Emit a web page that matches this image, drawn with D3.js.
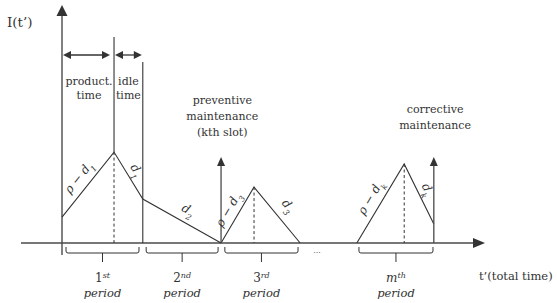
<!DOCTYPE html>
<html><head><meta charset="utf-8">
<script src="https://cdn.jsdelivr.net/npm/d3@7"></script>
<style>
body{margin:0;background:#fff}
svg{display:block}
text{font-family:"DejaVu Serif",serif;fill:#333}
</style>
</head><body><svg id="c" width="557" height="303"></svg>
<script>
// ---- data (abstract units: time t' 0..100, inventory I 0..100) ----
const cycle1 = [[0,10.9],[12.3,38.2],[19.1,18.5],[37.6,0]];
const cycle3 = [[37.6,0],[45.4,23.5],[56.3,0]];
const cycleM = [[69.7,0],[80.9,33.2],[87.9,8.0]];
const peaks = [[12.3,38.2],[45.4,23.5],[80.9,33.2]];
const maintArrows = [{t:37.6, top:36.1}, {t:87.9, top:36.1}];
const boundaries = [{t:12.3, top:86.6}, {t:19.1, top:76.1}];
const spans = [{t0:0, t1:12.3, label:["product.","time"]}, {t0:12.3, t1:19.1, label:["idle","time"]}];
const periods = [
  {t0:0.95, t1:18.2, num:"1", sup:"st", ital:false},
  {t0:19.9, t1:36.9, num:"2", sup:"nd", ital:false},
  {t0:38.5, t1:55.8, num:"3", sup:"rd", ital:false},
  {t0:70.2, t1:87.7, num:"m", sup:"th", ital:true}
];
const slopeLabels = [
  {a:cycle1[0], b:cycle1[1], main:"ρ − d", sub:"1"},
  {a:cycle1[1], b:cycle1[2], main:"d", sub:"1"},
  {a:cycle1[2], b:cycle1[3], main:"d", sub:"2"},
  {a:cycle3[0], b:cycle3[1], main:"ρ − d", sub:"3"},
  {a:cycle3[1], b:cycle3[2], main:"d", sub:"3"},
  {a:cycleM[0], b:cycleM[1], main:"ρ − d", sub:"k"},
  {a:cycleM[1], b:cycleM[2], main:"d", sub:"k"}
];
const notes = [
  {t:37.9, lines:["preventive","maintenance","(kth slot)"]},
  {t:88.2, lines:["corrective","maintenance"]}
];
const yLabel = "I(t’)", xLabel = "t’(total time)";

// ---- layout ----
const svg = d3.select("#c");
const x = d3.scaleLinear().domain([0,100]).range([62,485]);
const y = d3.scaleLinear().domain([0,100]).range([243,5]);
const ink = "#333", axisInk = "#4a4a4a";

function head(tx,ty,dx,dy,len,hw){
  const n=Math.hypot(dx,dy), ux=dx/n, uy=dy/n, bx=tx-ux*len, by=ty-uy*len;
  svg.append("path").attr("d",`M${tx},${ty}L${bx-uy*hw},${by+ux*hw}L${bx+uy*hw},${by-ux*hw}Z`).attr("fill",ink);
}
const line = d3.line().x(d=>x(d[0])).y(d=>y(d[1]));

// axes
svg.append("line").attr("x1",x(0)).attr("x2",x(0)).attr("y1",y(0)+12).attr("y2",y(100)+8).attr("stroke",axisInk).attr("stroke-width",1.4);
head(x(0),y(100),0,-1,11,5.5);
svg.append("line").attr("x1",21).attr("x2",x(100)-8).attr("y1",y(0)).attr("y2",y(0)).attr("stroke",axisInk).attr("stroke-width",1.4);
head(x(100),y(0),1,0,12,5);
svg.append("text").attr("x",7).attr("y",27).style("font-size","13.5px").text(yLabel);
svg.append("text").attr("x",479).attr("y",280).style("font-size","11.5px").text(xLabel);

// boundaries and duration arrows
boundaries.forEach(b=>svg.append("line").attr("x1",x(b.t)).attr("x2",x(b.t)).attr("y1",y(b.top)).attr("y2",b.t===peaks[0][0]?y(peaks[0][1]):y(0)).attr("stroke",ink).attr("stroke-width",1.1));
spans.forEach((s,i)=>{
  const x0=x(s.t0)+1, x1=x(s.t1)-(i===0?4:1), yy=55;
  svg.append("line").attr("x1",x0+5).attr("x2",x1-5).attr("y1",yy).attr("y2",yy).attr("stroke",ink).attr("stroke-width",1.3);
  head(x0,yy,-1,0,8,4); head(x1,yy,1,0,8,4);
  s.label.forEach((t,j)=>svg.append("text").attr("x",(x(s.t0)+x(s.t1))/2+(i===0?1:0)).attr("y",85+j*14).attr("text-anchor","middle").style("font-size","11px").text(t));
});

// inventory cycles
[cycle1,cycle3,cycleM].forEach(c=>svg.append("path").attr("d",line(c)).attr("fill","none").attr("stroke",ink).attr("stroke-width",1.1));
peaks.forEach(p=>svg.append("line").attr("x1",x(p[0])).attr("x2",x(p[0])).attr("y1",y(p[1])).attr("y2",y(0)).attr("stroke",ink).attr("stroke-dasharray","3,2.5").attr("stroke-width",1));

// maintenance arrows
maintArrows.forEach(m=>{
  svg.append("line").attr("x1",x(m.t)).attr("x2",x(m.t)).attr("y1",y(0)).attr("y2",y(m.top)+6).attr("stroke",axisInk).attr("stroke-width",1.3);
  head(x(m.t),y(m.top),0,-1,9,4);
});
notes.forEach(n=>n.lines.forEach((t,j)=>svg.append("text").attr("x",x(n.t)).attr("y",(n.lines.length===3?104:113)+j*16).attr("text-anchor","middle").style("font-size","11px").text(t)));

// slope labels
const offsets=[12,10,13,11,15,12,10];
slopeLabels.forEach((s,i)=>{
  const ax=x(s.a[0]), ay=y(s.a[1]), bx=x(s.b[0]), by=y(s.b[1]);
  const dx=bx-ax, dy=by-ay, n=Math.hypot(dx,dy);
  let px=dy/n, py=-dx/n; if(py>0){px=-px;py=-py;}
  const cx=(ax+bx)/2+px*offsets[i], cy=(ay+by)/2+py*offsets[i];
  const ang=Math.atan2(dy,dx)*180/Math.PI;
  const t=svg.append("text").attr("transform",`translate(${cx},${cy}) rotate(${ang})`).attr("text-anchor","middle").attr("dy","0.35em")
    .style("font-size","12px").style("font-style","italic");
  t.append("tspan").text(s.main);
  t.append("tspan").attr("baseline-shift","sub").style("font-size","8px").text(s.sub);
});

// period braces
periods.forEach(p=>{
  const a=x(p.t0), b=x(p.t1), c=(a+b)/2;
  svg.append("path").attr("d",`M${a},247L${a},251Q${a},253 ${a+2},253L${b-2},253Q${b},253 ${b},251L${b},247M${c},253L${c},262`).attr("fill","none").attr("stroke",ink).attr("stroke-width",1);
  const t=svg.append("text").attr("x",c).attr("y",282).attr("text-anchor","middle").style("font-size","12px");
  t.append("tspan").style("font-style",p.ital?"italic":"normal").text(p.num);
  t.append("tspan").attr("baseline-shift","super").style("font-size","8px").style("font-style","italic").text(p.sup);
  svg.append("text").attr("x",c).attr("y",297).attr("text-anchor","middle").style("font-size","11.5px").style("font-style","italic").text("period");
});
svg.append("text").attr("x",x(60.3)).attr("y",253).attr("text-anchor","middle").style("font-size","8px").text("...");
</script>
</body></html>
